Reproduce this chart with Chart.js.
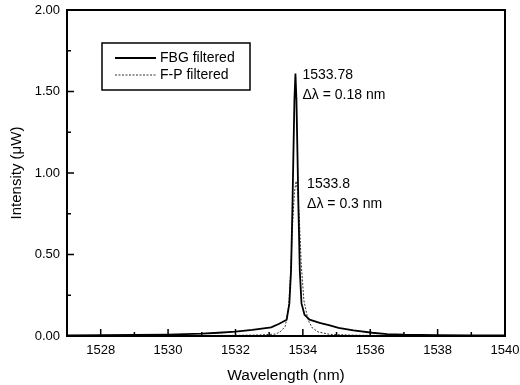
<!DOCTYPE html>
<html>
<head>
<meta charset="utf-8">
<script src="https://cdn.jsdelivr.net/npm/chart.js@4.4.1/dist/chart.umd.min.js"></script>
<style>
  html, body { margin: 0; padding: 0; background: #fff; }
  #wrap { width: 520px; height: 385px; }
</style>
</head>
<body>
<div id="wrap"><canvas id="c" width="520" height="385"></canvas></div>
<script>
// FBG-filtered spectrum: wavelength (nm) and intensity (uW)
const fbgWavelength = [1527, 1528, 1529, 1530, 1531, 1531.5, 1532, 1532.5, 1533.06, 1533.3, 1533.52,
  1533.60, 1533.65, 1533.69, 1533.72, 1533.75, 1533.78, 1533.81, 1533.84, 1533.87, 1533.91, 1533.96,
  1534.05, 1534.2, 1534.5, 1534.8, 1535.06, 1535.5, 1536.06, 1536.5, 1537, 1538, 1539, 1540];
const fbgIntensity = [0.004, 0.005, 0.006, 0.009, 0.014, 0.02, 0.027, 0.038, 0.053, 0.075, 0.10,
  0.20, 0.40, 0.78, 1.12, 1.45, 1.61, 1.45, 1.12, 0.78, 0.40, 0.20,
  0.13, 0.10, 0.08, 0.065, 0.05, 0.035, 0.02, 0.012, 0.008, 0.005, 0.004, 0.003];

// F-P-filtered spectrum
const fpWavelength = [1527, 1529, 1531, 1532, 1532.7, 1533.2, 1533.35, 1533.48, 1533.58, 1533.65,
  1533.7, 1533.75, 1533.8, 1533.85, 1533.9, 1533.95, 1534.03, 1534.15, 1534.28, 1534.45, 1534.8,
  1535.5, 1536.5, 1538, 1540];
const fpIntensity = [0.002, 0.002, 0.003, 0.004, 0.006, 0.012, 0.03, 0.06, 0.18, 0.45,
  0.70, 0.88, 0.95, 0.88, 0.70, 0.45, 0.22, 0.10, 0.05, 0.025, 0.01,
  0.005, 0.003, 0.002, 0.002];

const seriesNames = ['FBG filtered', 'F-P filtered'];
const xTicks = [1528, 1530, 1532, 1534, 1536, 1538, 1540];
const xMinorTicks = [1529, 1531, 1533, 1535, 1537, 1539];
const yTicks = [0, 0.5, 1.0, 1.5, 2.0];
const yMinorTicks = [0.25, 0.75, 1.25, 1.75];

// Peak annotations: [wavelength, intensity, line1, line2]
const peakNotes = [
  [1533.78, 1.61, '1533.78', '\u0394\u03bb = 0.18 nm'],
  [1533.8, 0.95, '1533.8', '\u0394\u03bb = 0.3 nm']
];

const FONT = 'Liberation Sans, Arial, Helvetica, sans-serif';

const pts = (xs, ys) => xs.map((x, i) => ({ x, y: ys[i] }));

// Inward ticks, frame, legend box and peak labels
const decor = {
  id: 'decor',
  afterDraw(chart) {
    const ctx = chart.ctx;
    const a = chart.chartArea;
    const xs = chart.scales.x, ys = chart.scales.y;
    ctx.save();
    ctx.strokeStyle = '#000';
    ctx.lineWidth = 1.5;
    ctx.beginPath();
    xTicks.forEach(v => { const p = xs.getPixelForValue(v); ctx.moveTo(p, a.bottom); ctx.lineTo(p, a.bottom - 7); });
    xMinorTicks.forEach(v => { const p = xs.getPixelForValue(v); ctx.moveTo(p, a.bottom); ctx.lineTo(p, a.bottom - 4); });
    yTicks.forEach(v => { const p = ys.getPixelForValue(v); ctx.moveTo(a.left, p); ctx.lineTo(a.left + 7, p); });
    yMinorTicks.forEach(v => { const p = ys.getPixelForValue(v); ctx.moveTo(a.left, p); ctx.lineTo(a.left + 4, p); });
    ctx.stroke();

    ctx.lineWidth = 2;
    ctx.strokeRect(a.left, a.top, a.right - a.left, a.bottom - a.top);

    // legend
    const lx = 102, ly = 43, lw = 148, lh = 47;
    ctx.lineWidth = 1.5;
    ctx.strokeRect(lx, ly, lw, lh);
    ctx.font = '14px ' + FONT;
    ctx.fillStyle = '#000';
    ctx.textBaseline = 'middle';
    chart.data.datasets.forEach((ds, i) => {
      const y = ly + 15 + i * 17;
      ctx.save();
      ctx.strokeStyle = ds.borderColor;
      ctx.lineWidth = ds.borderWidth;
      ctx.setLineDash(ds.borderDash || []);
      ctx.beginPath();
      ctx.moveTo(lx + 13, y);
      ctx.lineTo(lx + 54, y);
      ctx.stroke();
      ctx.restore();
      ctx.fillText(ds.label, lx + 58, y);
    });

    // peak labels
    ctx.font = '14px ' + FONT;
    ctx.textBaseline = 'middle';
    peakNotes.forEach((n, i) => {
      const px = xs.getPixelForValue(n[0]) + (i === 0 ? 7 : 11);
      const py = ys.getPixelForValue(n[1]) + (i === 0 ? 2 : 3);
      ctx.fillText(n[2], px, py);
      ctx.fillText(n[3], px, py + 20);
    });
    ctx.restore();
  }
};

new Chart(document.getElementById('c'), {
  type: 'line',
  data: {
    datasets: [
      {
        label: seriesNames[0],
        data: pts(fbgWavelength, fbgIntensity),
        borderColor: '#000',
        borderWidth: 1.8,
        pointRadius: 0,
        tension: 0,
        fill: false
      },
      {
        label: seriesNames[1],
        data: pts(fpWavelength, fpIntensity),
        borderColor: '#333',
        borderWidth: 1,
        borderDash: [2, 1.5],
        pointRadius: 0,
        tension: 0,
        fill: false
      }
    ]
  },
  options: {
    responsive: false,
    animation: false,
    layout: { padding: { top: 10, right: 15, left: 0, bottom: 0 } },
    plugins: { legend: { display: false }, tooltip: { enabled: false } },
    scales: {
      x: {
        type: 'linear',
        min: 1527,
        max: 1540,
        afterBuildTicks: s => { s.ticks = xTicks.map(v => ({ value: v })); },
        afterFit: s => { s.height = 49; s.paddingLeft = 0; s.paddingRight = 0; },
        grid: { display: false, drawTicks: false },
        border: { display: false },
        ticks: {
          color: '#000',
          font: { family: FONT, size: 13 },
          padding: 7,
          maxRotation: 0,
          callback: v => String(v)
        },
        title: {
          display: true,
          text: 'Wavelength (nm)',
          color: '#000',
          font: { family: FONT, size: 15.5 },
          padding: { top: 4, bottom: 0 }
        }
      },
      y: {
        type: 'linear',
        min: 0,
        max: 2,
        afterBuildTicks: s => { s.ticks = yTicks.map(v => ({ value: v })); },
        afterFit: s => { s.width = 67; s.paddingTop = 0; s.paddingBottom = 0; },
        grid: { display: false, drawTicks: false },
        border: { display: false },
        ticks: {
          color: '#000',
          font: { family: FONT, size: 13 },
          padding: 7,
          callback: v => Number(v).toFixed(2)
        },
        title: {
          display: true,
          text: 'Intensity (\u03bcW)',
          color: '#000',
          font: { family: FONT, size: 15 },
          padding: { top: 8, bottom: 0 }
        }
      }
    }
  },
  plugins: [decor]
});
</script>
</body>
</html>
